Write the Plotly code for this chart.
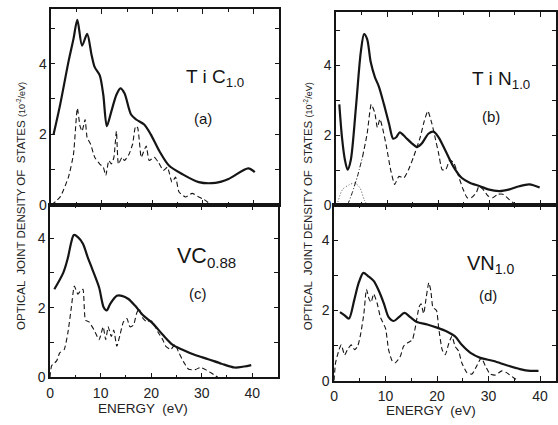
import plotly.graph_objects as go

# ---------------- data (energy in eV, density in 10^-2 / eV) ----------------
# (a) TiC1.0
a_solid_x = [0.46, 1.76, 3.4, 4.4, 5.16, 6.1, 7.1, 8.0, 8.6, 9.6, 10.3, 11.0, 11.9, 12.9, 13.7, 14.5,
             15.8, 16.8, 18.4, 19.7, 21.4, 23.3, 25.9, 29.2, 32.5, 35.1, 39.0, 40.3]
a_solid_y = [2.0, 2.84, 4.05, 4.7, 5.24, 4.51, 4.84, 4.23, 3.9, 3.67, 3.12, 2.23, 2.65, 3.12, 3.3, 3.16,
             2.56, 2.42, 2.28, 2.0, 1.53, 1.12, 0.88, 0.65, 0.63, 0.74, 1.04, 0.93]
a_dash_x = [0.0, 1.76, 3.4, 4.4, 5.16, 5.7, 6.1, 6.7, 7.1, 7.8, 8.6, 9.6, 10.3, 10.8, 11.4, 11.9, 12.4,
            12.9, 13.3, 14.0, 14.5, 15.4, 16.1, 16.7, 17.1, 17.8, 18.1, 18.8, 19.4, 20.4, 21.2, 22.2,
            23.0, 23.9, 24.6, 25.3, 26.6, 27.9, 29.2, 30.2, 31.8]
a_dash_y = [0.0, 0.23, 0.79, 1.44, 2.74, 2.23, 2.09, 2.42, 1.91, 1.72, 1.35, 1.16, 1.07, 0.84, 1.26, 1.16,
            1.35, 2.09, 1.16, 1.35, 1.26, 1.44, 1.72, 2.23, 2.19, 1.35, 1.44, 1.67, 1.26, 1.35, 1.21,
            0.98, 1.07, 0.65, 0.79, 0.37, 0.23, 0.33, 0.23, 0.16, 0.0]

# (b) TiN1.0
b_solid_x = [0.65, 1.17, 1.75, 2.27, 2.9, 3.9, 4.85, 5.5, 6.1, 6.8, 7.6, 8.4, 9.4, 10.4, 11.2, 11.8,
             12.5, 13.6, 14.9, 15.9, 16.8, 18.1, 19.1, 20.1, 21.4, 23.0, 24.6, 26.2, 28.2, 29.8, 32.0,
             34.0, 35.9, 37.9, 39.9]
b_solid_y = [2.88, 1.94, 1.29, 1.01, 1.29, 2.79, 4.37, 4.89, 4.75, 4.09, 3.67, 3.39, 2.88, 2.32, 1.9, 1.94,
             2.08, 1.94, 1.76, 1.66, 1.76, 2.04, 2.1, 1.94, 1.57, 1.1, 0.78, 0.64, 0.54, 0.45, 0.4,
             0.45, 0.54, 0.59, 0.5]
b_dashdot_x = [2.27, 3.2, 4.2, 5.2]
b_dashdot_y = [0.0, 0.36, 0.82, 1.38]
b_dash_x = [5.2, 6.1, 6.9, 7.6, 8.1, 8.6, 9.1, 9.9, 10.7, 11.5, 12.3, 13.3, 14.2, 15.2, 16.5, 17.3, 18.0,
            18.8, 19.4, 20.1, 20.8, 21.5, 22.3, 23.1, 23.9, 24.9, 25.7, 26.5, 27.5, 28.0, 28.8, 29.8,
            30.7, 31.7, 32.7, 34.0, 35.3]
b_dash_y = [1.38, 2.04, 2.88, 2.64, 2.22, 2.46, 2.22, 1.66, 1.01, 0.59, 0.82, 0.78, 1.01, 1.38, 1.94, 2.41, 2.69,
            2.32, 1.94, 1.48, 1.01, 1.01, 1.29, 1.2, 0.87, 0.45, 0.21, 0.21, 0.36, 0.54, 0.45, 0.26,
            0.21, 0.31, 0.31, 0.15, 0.0]
b_hump_x = [0.2, 1.3, 2.6, 3.7, 4.7, 5.5, 6.1]
b_hump_y = [0.0, 0.45, 0.58, 0.63, 0.49, 0.16, 0.0]

# (c) VC0.88
c_solid_x = [0.84, 2.6, 3.5, 4.2, 4.7, 5.5, 6.5, 7.4, 8.4, 9.7, 10.6, 11.2, 11.9, 13.2, 14.2, 15.5,
             16.8, 18.4, 20.3, 22.3, 24.2, 26.1, 28.7, 31.3, 33.9, 36.5, 38.4, 39.8]
c_solid_y = [2.53, 3.0, 3.42, 3.89, 4.09, 4.03, 3.84, 3.47, 3.09, 2.58, 2.01, 1.92, 2.11, 2.34, 2.34, 2.25,
             2.06, 1.78, 1.55, 1.22, 0.94, 0.8, 0.64, 0.52, 0.39, 0.28, 0.31, 0.35]
c_dash_x = [0.0, 0.3, 1.3, 1.9, 2.8, 3.5, 4.2, 4.8, 5.5, 6.0, 6.5, 7.0, 7.7, 8.7, 9.7, 10.5, 11.0, 11.5,
            12.1, 12.6, 13.2, 13.9, 14.5, 15.2, 15.8, 16.5, 17.1, 17.6, 18.4, 19.2, 19.7, 20.3, 21.3,
            22.3, 22.9, 23.9, 24.7, 25.5, 26.5, 27.4, 28.7, 29.7, 30.6, 31.9, 33.2]
c_dash_y = [0.0, 0.33, 0.47, 0.7, 0.8, 1.26, 2.0, 2.62, 2.39, 2.48, 2.53, 1.64, 1.59, 1.36, 1.08, 1.45, 1.08, 1.45,
            1.17, 1.36, 0.89, 1.26, 1.59, 1.69, 1.45, 1.5, 1.83, 1.97, 1.69, 1.59, 1.64, 1.59, 1.31,
            1.08, 0.89, 0.8, 0.94, 0.7, 0.42, 0.23, 0.22, 0.28, 0.23, 0.12, 0.0]

# (d) VN1.0
d_solid_x = [1.16, 2.06, 2.9, 3.9, 4.8, 5.7, 6.6, 7.7, 8.7, 9.7, 10.6, 11.6, 12.6, 13.7, 14.8, 16.1,
             18.1, 20.0, 21.9, 23.5, 24.8, 26.5, 28.4, 31.0, 33.5, 36.1, 38.1, 39.7]
d_solid_y = [1.95, 1.86, 1.77, 2.28, 2.79, 3.07, 2.98, 2.84, 2.56, 2.19, 1.81, 1.7, 1.81, 1.93, 1.81, 1.67,
             1.6, 1.51, 1.4, 1.26, 1.02, 0.79, 0.65, 0.56, 0.44, 0.33, 0.28, 0.28]
d_dash_x = [0.0, 0.3, 0.97, 1.4, 2.06, 2.6, 3.35, 4.0, 4.6, 5.2, 5.8, 6.3, 6.8, 7.2, 7.7, 8.4, 9.0, 10.0,
            10.6, 11.3, 11.9, 12.9, 13.5, 14.2, 15.2, 15.8, 16.5, 16.9, 17.4, 17.9, 18.4, 18.8, 19.2,
            19.9, 20.3, 21.0, 21.6, 22.3, 22.9, 23.5, 24.2, 24.8, 25.8, 26.8, 27.7, 28.6, 29.4, 30.3,
            31.3, 32.6, 33.5, 34.8, 35.8]
d_dash_y = [0.0, 0.51, 0.88, 1.02, 0.73, 0.88, 1.02, 0.88, 0.98, 1.35, 1.91, 2.6, 2.33, 2.23, 2.47, 2.19, 1.81, 1.49,
            0.88, 0.56, 0.51, 0.7, 0.98, 1.07, 1.16, 1.53, 2.09, 2.19, 1.91, 2.37, 2.79, 2.56, 2.09,
            2.0, 1.53, 0.88, 0.74, 1.07, 1.27, 0.98, 0.84, 0.51, 0.23, 0.19, 0.42, 0.65, 0.42, 0.19,
            0.16, 0.28, 0.23, 0.09, 0.0]

x_ticks = [0, 10, 20, 30, 40]
y_ticks = [0, 2, 4]
panel_names = ["T i C<sub>1.0</sub>", "T i N<sub>1.0</sub>", "VC<sub>0.88</sub>", "VN<sub>1.0</sub>"]
panel_tags = ["(a)", "(b)", "(c)", "(d)"]
y_title = "OPTICAL  JOINT DENSITY OF  STATES <span style='font-size:9px'>(10<sup>-2</sup>/eV)</span>"
x_title = "ENERGY  (eV)"

INK = "#151515"
FONT = "Liberation Sans"

fig = go.Figure()


def line(x, y, ax, dash="solid", width=2.2, color=INK, smoothing=0.8):
    fig.add_trace(go.Scatter(
        x=x, y=y, mode="lines", xaxis="x" + ax, yaxis="y" + ax,
        line=dict(color=color, width=width, dash=dash, shape="spline", smoothing=smoothing),
        showlegend=False, hoverinfo="skip"))


line(a_solid_x, a_solid_y, "")
line(a_dash_x, a_dash_y, "", dash="5px,3px", width=1.1, smoothing=0.5)
line(b_solid_x, b_solid_y, "2")
line(b_dashdot_x, b_dashdot_y, "2", dash="5px,2px,1px,2px", width=1.0, smoothing=0.5)
line(b_dash_x, b_dash_y, "2", dash="5px,3px", width=1.1, smoothing=0.5)
line(b_hump_x, b_hump_y, "2", dash="1px,2px", width=1.0, color="#555", smoothing=0.8)
line(c_solid_x, c_solid_y, "3")
line(c_dash_x, c_dash_y, "3", dash="5px,3px", width=1.1, smoothing=0.5)
line(d_solid_x, d_solid_y, "4")
line(d_dash_x, d_dash_y, "4", dash="5px,3px", width=1.1, smoothing=0.5)

W, H = 558, 425


def xdom(l, r):
    return [l / W, r / W]


def ydom(bottom_px, top_px):
    return [(H - bottom_px) / H, (H - top_px) / H]


common = dict(showline=True, linecolor=INK, linewidth=1.5, mirror="ticks", ticks="inside",
              tickwidth=1.2, tickcolor=INK, showgrid=False, zeroline=False,
              tickfont=dict(family=FONT, size=14, color="#222"))


def xaxis(dom, rng, anchor, labels):
    return dict(common, domain=dom, range=rng, anchor=anchor, tickvals=x_ticks, ticklen=5,
                showticklabels=labels, ticklabelstandoff=2,
                minor=dict(dtick=5, tick0=0, ticks="inside", ticklen=3, tickwidth=1.2, tickcolor=INK))


def yaxis(dom, rng, anchor):
    return dict(common, domain=dom, range=rng, anchor=anchor, tickvals=y_ticks, ticklen=4,
                minor=dict(dtick=1, tick0=0, ticks="inside", ticklen=4, tickwidth=1.2, tickcolor=INK))


fig.update_layout(
    width=W, height=H, margin=dict(l=0, r=0, t=0, b=0),
    paper_bgcolor="white", plot_bgcolor="white",
    xaxis=xaxis(xdom(47.7, 277), [0, 45], "y", False),
    yaxis=yaxis(ydom(209, 9), [0, 5.55], "x"),
    xaxis2=xaxis(xdom(335, 557), [0, 43.1], "y2", False),
    yaxis2=yaxis(ydom(209, 12), [0, 5.53], "x2"),
    xaxis3=xaxis(xdom(46.5, 276), [0, 45], "y3", True),
    yaxis3=yaxis(ydom(384.5, 209), [0, 4.95], "x3"),
    xaxis4=xaxis(xdom(333, 557), [0, 43.1], "y4", True),
    yaxis4=yaxis(ydom(388, 209), [0, 5.0], "x4"),
)

ann = []
# compound names and panel tags
name_pos = [("x", "y", 32.4, 3.58, 19), ("x2", "y2", 32.4, 3.57, 19),
            ("x3", "y3", 31.0, 3.45, 21.5), ("x4", "y4", 30.4, 3.3, 20)]
tag_pos = [(30.0, 2.44), (30.3, 2.53), (29.3, 2.42), (29.8, 2.43)]
for (xr, yr, nx, ny, fs), (tx, ty), nm, tg in zip(name_pos, tag_pos, panel_names, panel_tags):
    ann.append(dict(xref=xr, yref=yr, x=nx, y=ny, text=nm, showarrow=False,
                    xanchor="center", yanchor="middle",
                    font=dict(family=FONT, size=fs, color=INK)))
    ann.append(dict(xref=xr, yref=yr, x=tx, y=ty, text=tg, showarrow=False,
                    xanchor="center", yanchor="middle",
                    font=dict(family=FONT, size=15, color=INK)))

# axis titles
for px in (17, 307):
    ann.append(dict(xref="paper", yref="paper", x=px / W, y=(H - 210) / H, text=y_title,
                    textangle=-90, showarrow=False, xanchor="center", yanchor="middle",
                    font=dict(family=FONT, size=11.5, color="#222")))
for px, py in ((140, 416), (431, 418)):
    ann.append(dict(xref="paper", yref="paper", x=px / W, y=(H - py) / H, text=x_title,
                    showarrow=False, xanchor="center", yanchor="middle",
                    font=dict(family=FONT, size=13.5, color="#222")))

fig.update_layout(annotations=ann)
fig.write_html("out.html")
